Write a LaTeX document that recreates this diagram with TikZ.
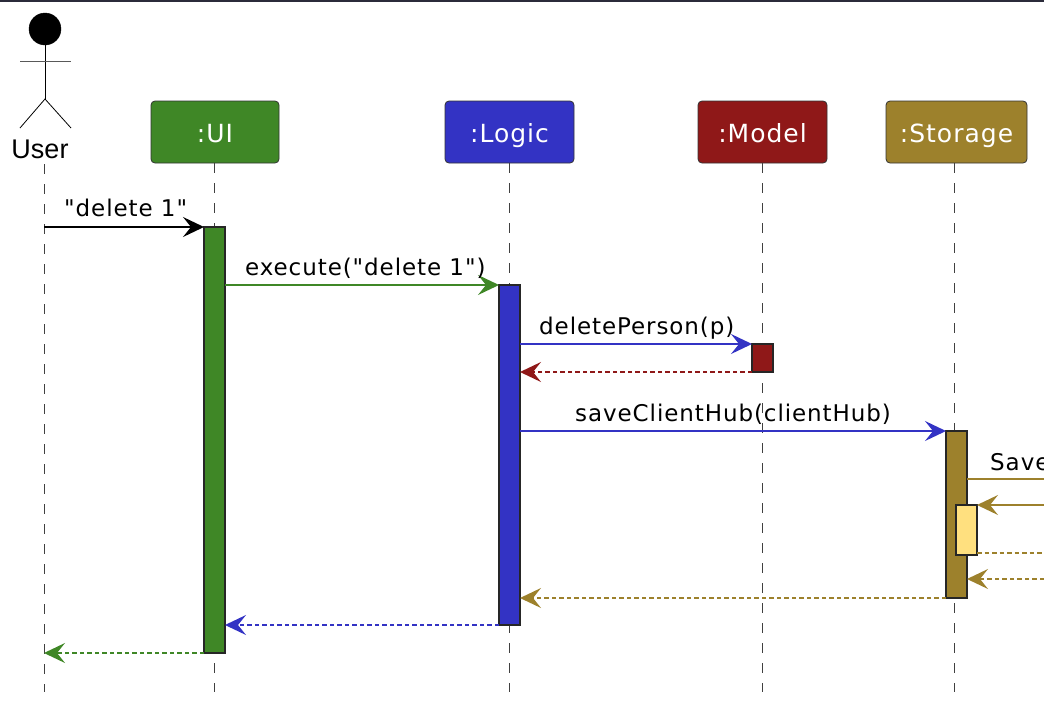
\documentclass[tikz,border=0pt]{standalone}
\usepackage{fontspec}
\newfontfamily\labelfont[LetterSpace=4]{DejaVu Sans}
\newfontfamily\actorfont{Liberation Sans}
\usetikzlibrary{arrows.meta}
\definecolor{uiGreen}{HTML}{3F8726}
\definecolor{logicBlue}{HTML}{3333C4}
\definecolor{modelRed}{HTML}{8F1818}
\definecolor{storageGold}{HTML}{9D812C}
\definecolor{fileYellow}{HTML}{FFE07F}
\definecolor{topBar}{HTML}{2B2B3A}
\tikzset{
	head/.style={draw=black!80, line width=0.8pt, rounded corners=4pt, minimum height=62pt, inner sep=0pt, outer sep=0pt, text=white, text height=20pt, text depth=0pt, font=\labelfont\fontsize{25}{29}\selectfont},
	bar/.style={draw=black!85, line width=1.5pt, minimum width=21pt, inner sep=0pt, outer sep=0pt},
	life/.style={line width=0.8pt, black!75, dash pattern=on 10pt off 10pt},
	msg/.style={line width=1.5pt, -{Stealth[length=21pt, width=20pt, inset=8pt]}},
	ret/.style={msg, dash pattern=on 4.5pt off 3pt},
	lbl/.style={anchor=base west, inner sep=0pt, font=\labelfont\fontsize{23}{27}\selectfont}
}
\begin{document}
\begin{tikzpicture}[x=1pt, y=-1pt]
	\useasboundingbox (0, 0) rectangle (1044, 702);
	\fill[topBar] (0, 0) rectangle (1044, 1.5);
	% actor
	\node[circle, fill=black, draw=black, minimum size=32pt, inner sep=0pt, outer sep=0pt] (userHead) at (45, 29) {};
	\coordinate (userHip) at (45, 99);
	\coordinate (userArmL) at (20, 61);
	\coordinate (userArmR) at (71, 61);
	\coordinate (userFootL) at (20, 128);
	\coordinate (userFootR) at (71, 128);
	\draw[line width=0.8pt] (userHead.south) -- (userHip);
	\draw[line width=1pt, black!65] (userArmL) -- (userArmR);
	\draw[line width=0.8pt] (userFootL) -- (userHip) -- (userFootR);
	\node[inner sep=0pt, font=\actorfont\fontsize{27}{30}\selectfont] (userName) at (40, 149) {User};
	% heads
	\node[head, fill=uiGreen, minimum width=128pt] (ui) at (215, 132) {:UI};
	\node[head, fill=logicBlue, minimum width=129pt] (logic) at (509.5, 132) {:Logic};
	\node[head, fill=modelRed, minimum width=129pt] (model) at (762.5, 132) {:Model};
	\node[head, fill=storageGold, minimum width=141pt] (storage) at (956.5, 132) {:Storage};
	% lifelines
	\coordinate (userTop) at (44, 164);
	\coordinate (userEnd) at (44, 692);
	\coordinate (uiEnd) at (214, 692);
	\coordinate (logicEnd) at (509, 692);
	\coordinate (modelEnd) at (762, 692);
	\coordinate (storageEnd) at (954, 692);
	\draw[life] (userTop) -- (userEnd);
	\draw[life] (uiEnd |- ui.south) -- (uiEnd);
	\draw[life] (logicEnd |- logic.south) -- (logicEnd);
	\draw[life] (modelEnd |- model.south) -- (modelEnd);
	\draw[life] (storageEnd |- storage.south) -- (storageEnd);
	% activations
	\node[bar, fill=uiGreen, minimum height=426pt] (uiBar) at (214.5, 440) {};
	\node[bar, fill=logicBlue, minimum height=340pt] (logicBar) at (509.5, 455) {};
	\node[bar, fill=modelRed, minimum height=28pt] (modelBar) at (762.5, 358) {};
	\node[bar, fill=storageGold, minimum height=167pt] (storageBar) at (956.5, 514.5) {};
	\node[bar, fill=fileYellow, minimum height=50pt] (fileBar) at (966.5, 530) {};
	% free ends at the picture's edge
	\coordinate (saveOut) at (1044, 479);
	\coordinate (saveBack) at (1044, 505);
	\coordinate (fileOut) at (1044, 553);
	\coordinate (fileBack) at (1044, 579);
	% messages
	\draw[msg, black, line width=2pt] (userEnd |- uiBar.north) -- (uiBar.north west);
	\draw[msg, uiGreen] (uiBar.east |- logicBar.north) -- (logicBar.north west);
	\draw[msg, logicBlue] (logicBar.east |- modelBar.north) -- (modelBar.north west);
	\draw[ret, modelRed] (modelBar.south west) -- (logicBar.east |- modelBar.south);
	\draw[msg, logicBlue] (logicBar.east |- storageBar.north) -- (storageBar.north west);
	\draw[line width=1.5pt, storageGold] (storageBar.east |- saveOut) -- (saveOut);
	\draw[msg, storageGold] (saveBack) -- (fileBar.north east);
	\draw[line width=1.5pt, storageGold, dash pattern=on 4.5pt off 3pt] (fileBar.east |- fileOut) -- (fileOut);
	\draw[ret, storageGold] (fileBack) -- (storageBar.east |- fileBack);
	\draw[ret, storageGold] (storageBar.south west) -- (logicBar.east |- storageBar.south);
	\draw[ret, logicBlue] (logicBar.south west) -- (uiBar.east |- logicBar.south);
	\draw[ret, uiGreen] (uiBar.south west) -- (userEnd |- uiBar.south);
	% labels
	\node[lbl] (deleteLbl) at (64, 216) {"delete 1"};
	\node[lbl] (executeLbl) at (245, 275) {execute("delete 1")};
	\node[lbl] (personLbl) at (539, 334) {deletePerson(p)};
	\node[lbl] (hubLbl) at (575, 421) {saveClientHub(clientHub)};
	\node[lbl] (saveLbl) at (990, 470) {Save};
\end{tikzpicture}
\end{document}
